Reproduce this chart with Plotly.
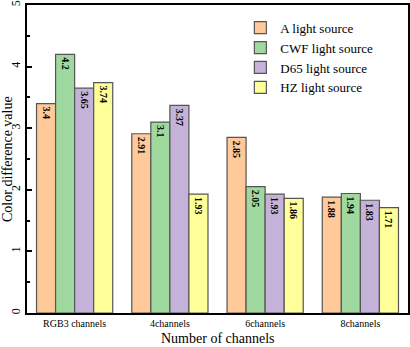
import plotly.graph_objects as go

categories = ["RGB3 channels", "4channels", "6channels", "8channels"]
series_names = ["A light source", "CWF light source", "D65 light source", "HZ light source"]
a_vals = [3.4, 2.91, 2.85, 1.88]
cwf_vals = [4.2, 3.1, 2.05, 1.94]
d65_vals = [3.65, 3.37, 1.93, 1.83]
hz_vals = [3.74, 1.93, 1.86, 1.71]
colors = ["#FFC999", "#9FD99F", "#C4B2D9", "#FFFF99"]

FONT = "Liberation Serif"
fig = go.Figure()
for name, vals, col in zip(series_names, [a_vals, cwf_vals, d65_vals, hz_vals], colors):
    fig.add_trace(go.Bar(
        x=categories, y=vals, name=name,
        marker=dict(color=col, line=dict(color="#555555", width=1.2)),
        text=[str(v) for v in vals],
        textposition="inside", insidetextanchor="end", textangle=90,
        textfont=dict(family=FONT, size=10, color="black", weight="bold"),
        constraintext="none",
    ))

fig.update_layout(
    width=410, height=347,
    margin=dict(l=27, r=2, t=5, b=34),
    paper_bgcolor="white", plot_bgcolor="white",
    barmode="group", bargap=0.2, bargroupgap=0,
    font=dict(family=FONT, color="black"),
    legend=dict(x=0.56, y=0.975, xanchor="left", yanchor="top",
                font=dict(family="Times New Roman", size=13, color="black"),
                bgcolor="rgba(0,0,0,0)", itemwidth=30, tracegroupgap=0),
    annotations=[
        dict(text="Number of channels", xref="paper", yref="paper", x=0.5, y=0,
             yshift=-25, xanchor="center", yanchor="middle", showarrow=False,
             font=dict(family=FONT, size=14)),
        dict(text="Color difference value", xref="paper", yref="paper", x=0, y=0.5,
             xshift=-20, xanchor="center", yanchor="middle", textangle=-90,
             showarrow=False, font=dict(family=FONT, size=14)),
    ],
)
fig.update_xaxes(
    automargin=False,
    showline=True, linecolor="black", linewidth=2, mirror=True,
    ticks="", tickfont=dict(family=FONT, size=10), ticklabelstandoff=0,
    range=[-0.5, 3.5],
)
fig.update_yaxes(
    automargin=False,
    range=[0, 5], dtick=1, showgrid=False, zeroline=False,
    showline=True, linecolor="black", linewidth=2, mirror=True,
    ticks="inside", ticklen=5, tickwidth=2, tickcolor="black",
    minor=dict(ticks="inside", dtick=0.5, ticklen=3, tickwidth=2, tickcolor="black"),
    tickangle=-90, tickfont=dict(family=FONT, size=12),
)
fig.write_html("out.html", config={"displayModeBar": False},
               post_script="document.body.style.margin='0';")
